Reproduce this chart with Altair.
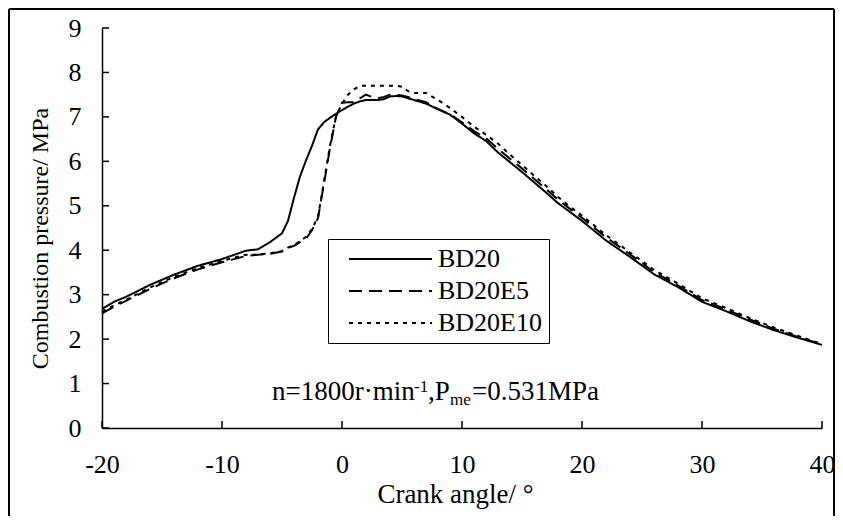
import altair as alt
import pandas as pd

# Crank angle (deg) and combustion pressure (MPa)
angles = [-20, -19, -18, -16, -14, -12, -10, -8, -7, -6, -5, -4.5, -4, -3.5, -3, -2.5,
          -2, -1.5, -1, -0.5, 0, 0.5, 1, 1.5, 2, 2.5, 3, 3.5, 4, 4.5, 5, 5.5, 6, 7, 8,
          9, 10, 11, 12, 13, 14, 15, 16, 17, 18, 19, 20, 22, 24, 26, 28, 30, 32, 34,
          36, 38, 40]
bd20 = [2.68, 2.84, 2.95, 3.22, 3.45, 3.65, 3.80, 3.99, 4.02, 4.18, 4.38, 4.66, 5.18,
        5.66, 6.02, 6.35, 6.72, 6.88, 6.98, 7.07, 7.15, 7.23, 7.30, 7.35, 7.38, 7.38,
        7.38, 7.40, 7.46, 7.47, 7.46, 7.42, 7.38, 7.30, 7.17, 7.05, 6.85, 6.63, 6.46,
        6.20, 5.98, 5.76, 5.53, 5.30, 5.06, 4.86, 4.66, 4.22, 3.85, 3.46, 3.17, 2.84,
        2.63, 2.40, 2.20, 2.03, 1.87]
bd20e5 = [2.58, 2.73, 2.86, 3.13, 3.37, 3.57, 3.73, 3.87, 3.90, 3.92, 3.97, 4.05, 4.10,
          4.18, 4.26, 4.45, 4.72, 5.50, 6.30, 7.00, 7.32, 7.33, 7.33, 7.42, 7.50, 7.45,
          7.42, 7.45, 7.50, 7.50, 7.48, 7.45, 7.40, 7.33, 7.18, 7.06, 6.88, 6.68, 6.52,
          6.28, 6.06, 5.84, 5.61, 5.38, 5.14, 4.93, 4.73, 4.29, 3.91, 3.51, 3.21, 2.88,
          2.67, 2.44, 2.23, 2.05, 1.88]
bd20e10 = [2.62, 2.76, 2.88, 3.16, 3.40, 3.60, 3.76, 3.90, 3.90, 3.93, 3.98, 4.06, 4.12,
           4.20, 4.30, 4.48, 4.75, 5.55, 6.35, 7.02, 7.30, 7.50, 7.62, 7.70, 7.70, 7.70,
           7.70, 7.70, 7.70, 7.70, 7.68, 7.58, 7.54, 7.54, 7.38, 7.20, 7.00, 6.78, 6.60,
           6.40, 6.15, 5.92, 5.68, 5.45, 5.20, 4.98, 4.78, 4.34, 3.95, 3.56, 3.25, 2.92,
           2.70, 2.47, 2.26, 2.07, 1.89]
series_names = ["BD20", "BD20E5", "BD20E10"]
x_ticks = [-20, -10, 0, 10, 20, 30, 40]
y_ticks = [0, 1, 2, 3, 4, 5, 6, 7, 8, 9]

rows = []
for name, vals in zip(series_names, [bd20, bd20e5, bd20e10]):
    for a, v in zip(angles, vals):
        rows.append({"angle": a, "pressure": v, "fuel": name})
df = pd.DataFrame(rows)

FONT = "Liberation Serif"
xscale = alt.Scale(domain=[-20, 40], nice=False, zero=False)
yscale = alt.Scale(domain=[0, 9], nice=False, zero=True)

xaxis = alt.Axis(values=x_ticks, ticks=False, grid=False, labelFont=FONT,
                 labelFontSize=26, labelPadding=23, labelColor="black",
                 labelExpr="datum.value + ''", labelFlush=False,
                 domainColor="black", domainWidth=1.5,
                 title="Crank angle/ °", titleFont=FONT, titleFontSize=27,
                 titleFontWeight="normal", titleColor="black",
                 titleX=353, titleY=66, titleAlign="center", titleBaseline="middle")
yaxis = alt.Axis(values=y_ticks, ticks=False, grid=False, labelFont=FONT,
                 labelFontSize=26, labelPadding=21, labelColor="black",
                 labelFlush=False, domainColor="black", domainWidth=1.5,
                 title="Combustion pressure/ MPa", titleFont=FONT,
                 titleFontSize=24, titleFontWeight="normal", titleColor="black",
                 titleX=-62, titleY=210, titleAngle=270, titleAlign="center",
                 titleBaseline="middle")

lines = alt.Chart(df).mark_line(color="black", strokeWidth=2).encode(
    x=alt.X("angle:Q", scale=xscale, axis=xaxis, title="Crank angle/ °"),
    y=alt.Y("pressure:Q", scale=yscale, axis=yaxis, title="Combustion pressure/ MPa"),
    strokeDash=alt.StrokeDash(
        "fuel:N",
        scale=alt.Scale(domain=series_names, range=[[1, 0], [13, 7], [4, 5]]),
        legend=alt.Legend(title=None, orient="none", legendX=226, legendY=211,
                          symbolType="stroke", symbolSize=6889, symbolStrokeWidth=2,
                          symbolStrokeColor="black", labelFont=FONT, labelFontSize=26,
                          labelColor="black", strokeColor="black", fillColor="white",
                          padding=7, rowPadding=6, labelOffset=5, symbolOffset=13,
                          clipHeight=26)),
)

ytick = alt.Chart(pd.DataFrame({"v": y_ticks})).mark_rule(color="black", strokeWidth=1.5).encode(
    y=alt.Y("v:Q", scale=yscale, axis=yaxis, title="Combustion pressure/ MPa"),
    x=alt.value(0), x2=alt.value(7))
xtick = alt.Chart(pd.DataFrame({"v": x_ticks})).mark_rule(color="black", strokeWidth=1.5).encode(
    x=alt.X("v:Q", scale=xscale, axis=xaxis, title="Crank angle/ °"),
    y=alt.value(400), y2=alt.value(393))

def frame_side(x, x2, y, y2):
    return alt.Chart(pd.DataFrame({"f": [0]})).mark_rule(color="black", strokeWidth=2).encode(
        x=alt.value(x), x2=alt.value(x2), y=alt.value(y), y2=alt.value(y2))

frame = [
    frame_side(-93, -93, -19, 488),
    frame_side(-93, 732, -19, -19),
    frame_side(732, 732, -19, 488),
]

def txt(s, x, y, size):
    return alt.Chart(pd.DataFrame({"t": [s]})).mark_text(
        font=FONT, fontSize=size, color="black", align="left", baseline="alphabetic"
    ).encode(text="t:N", x=alt.value(x), y=alt.value(y))

annot = [
    txt("n=1800r·min", 170, 372, 27),
    txt("-1", 312, 364, 17),
    txt(",P", 326, 372, 27),
    txt("me", 348, 377, 17),
    txt("=0.531MPa", 370, 372, 27),
]

chart = alt.layer(lines, ytick, xtick, *frame, *annot).properties(
    width=720, height=400,
    autosize=alt.AutoSizeParams(type="none"),
    padding={"left": 94, "top": 20, "right": 13, "bottom": 88},
    background="white",
).configure_view(strokeWidth=0)

chart.save("out.html", embed_options={"renderer": "svg", "actions": False})
